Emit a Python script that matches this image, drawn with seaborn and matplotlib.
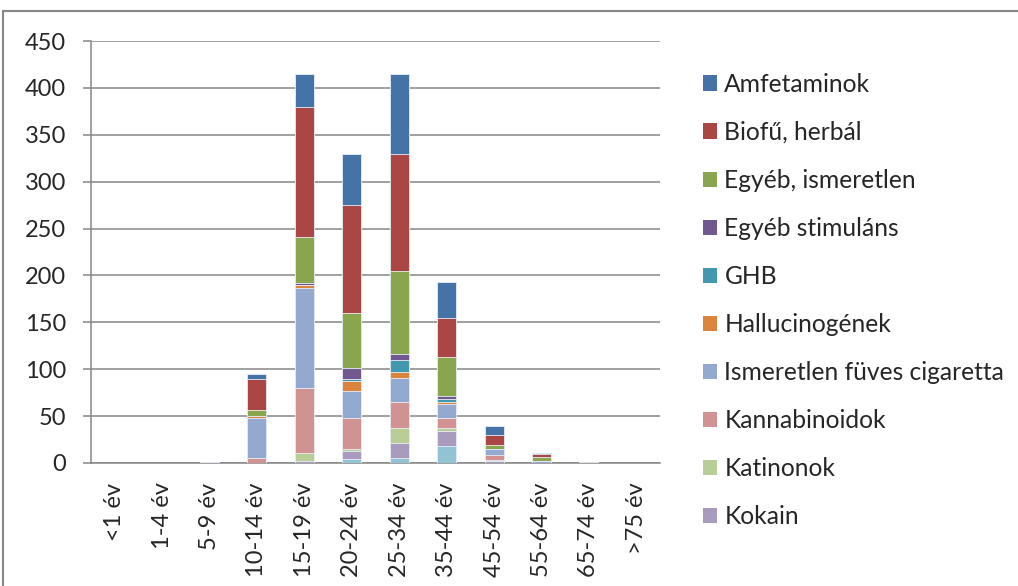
import numpy as np
import pandas as pd
import matplotlib
matplotlib.use('Agg')
import matplotlib.pyplot as plt
from matplotlib.patches import Patch, Rectangle
import seaborn as sns

# age groups on the x axis
ages = ['<1 év', '1-4 év', '5-9 év', '10-14 év', '15-19 év', '20-24 év',
        '25-34 év', '35-44 év', '45-54 év', '55-64 év', '65-74 év', '>75 év']

# series, in legend order (first one ends up on top of the stack)
amfetaminok = [0, 0, 0, 5.3, 34.5, 54.6, 86.2, 38.3, 10, 1.4, 0, 0]
biofu = [0, 0, 0, 33.7, 139, 116, 124.5, 41.8, 10.4, 2.9, 1, 0]
egyeb_ism = [0, 0, 0, 6.4, 49.3, 58, 88.3, 42.2, 5, 4.3, 0, 0]
egyeb_stim = [0, 0, 0, 0, 2, 12, 6.7, 2.8, 0, 0, 0, 0]
ghb = [0, 0, 0, 0, 0.5, 2.5, 12.4, 2.8, 0, 0, 0, 0]
halluc = [0, 0, 0, 1.5, 3.2, 10, 6.7, 2.5, 0, 0, 0, 0]
ismeretlen_fuves = [0, 0, 1, 43, 106.4, 29.4, 25.2, 14.9, 6.1, 2.2, 0, 0]
kannabinoidok = [0, 0, 0, 5.3, 69, 32.6, 27.7, 10.6, 5.4, 0, 0, 0]
katinonok = [0, 0, 0, 0, 8.7, 2.5, 16.3, 3.5, 0.7, 0, 0, 0]
kokain = [0, 0, 0, 0, 2, 7.8, 15.6, 15.6, 2.2, 0, 0, 0]
egyeb = [0, 0, 0, 0, 0, 4.6, 5.7, 18.4, 0, 0, 0, 0]  # not visible in the (cut) legend

names = ['Amfetaminok', 'Biofű, herbál', 'Egyéb, ismeretlen', 'Egyéb stimuláns',
         'GHB', 'Hallucinogének', 'Ismeretlen füves cigaretta', 'Kannabinoidok',
         'Katinonok', 'Kokain', 'Egyéb']
series = [amfetaminok, biofu, egyeb_ism, egyeb_stim, ghb, halluc,
          ismeretlen_fuves, kannabinoidok, katinonok, kokain, egyeb]
colors = ['#4572A7', '#AA4643', '#89A54E', '#71588F', '#4198AF', '#DB843D',
          '#93A9CF', '#D19392', '#B9CD96', '#A99BBD', '#92C3D4']

sns.set_style('white')
plt.rcParams['font.family'] = ['Lato', 'DejaVu Sans']

fig = plt.figure(figsize=(10.18, 5.86), dpi=100)
ax = fig.add_axes([0.0894, 0.21, 0.5589, 0.72])

# stacked bars: draw cumulative totals, tallest first
df = pd.DataFrame(dict(zip(names, series)), index=ages)
cum = df[names[::-1]].cumsum(axis=1)
for name, col in zip(names, colors):
    sns.barplot(x=ages, y=cum[name].values, order=ages, color=col, saturation=1,
                width=0.4, edgecolor='#e8eef6', linewidth=0.6, ax=ax, zorder=3)

ax.set_ylim(0, 450)
ax.set_xlim(-0.5, 11.5)
ax.set_yticks(np.arange(0, 451, 50))
ax.yaxis.grid(True, color='#868686', linewidth=1.1, zorder=0)
ax.xaxis.grid(False)
ax.set_axisbelow(True)
for s in ['top', 'right']:
    ax.spines[s].set_visible(False)
for s in ['left', 'bottom']:
    ax.spines[s].set_color('#868686')
    ax.spines[s].set_linewidth(1.1)

ax.set_xticks(range(len(ages)))
ax.set_xticklabels(ages, rotation=90, fontsize=17)
ax.set_xticks(np.arange(-0.5, 12, 1), minor=True)
ax.tick_params(axis='x', which='major', length=0, pad=14)
ax.tick_params(axis='x', which='minor', length=7, width=1.1, color='#868686')
ax.tick_params(axis='y', length=6, width=1.1, color='#868686', pad=12, labelsize=17,
               left=True)
ax.set_xlabel('')
ax.set_ylabel('')

handles = [Patch(facecolor=c, edgecolor='none') for c in colors[:10]]
fig.legend(handles, names[:10], loc='upper left', bbox_to_anchor=(703 / 1018, 0.876),
           frameon=False, fontsize=17.7, handlelength=0.57, handleheight=0.57,
           handletextpad=0.3, labelspacing=1.02, borderpad=0, borderaxespad=0)

# chart border
fig.patches.append(Rectangle((3 / 1018, -0.05), 1.2, 1 - 10.5 / 586 + 0.05,
                             transform=fig.transFigure, fill=False,
                             edgecolor='#868686', linewidth=1.5))

fig.savefig('out.png', dpi=100)
